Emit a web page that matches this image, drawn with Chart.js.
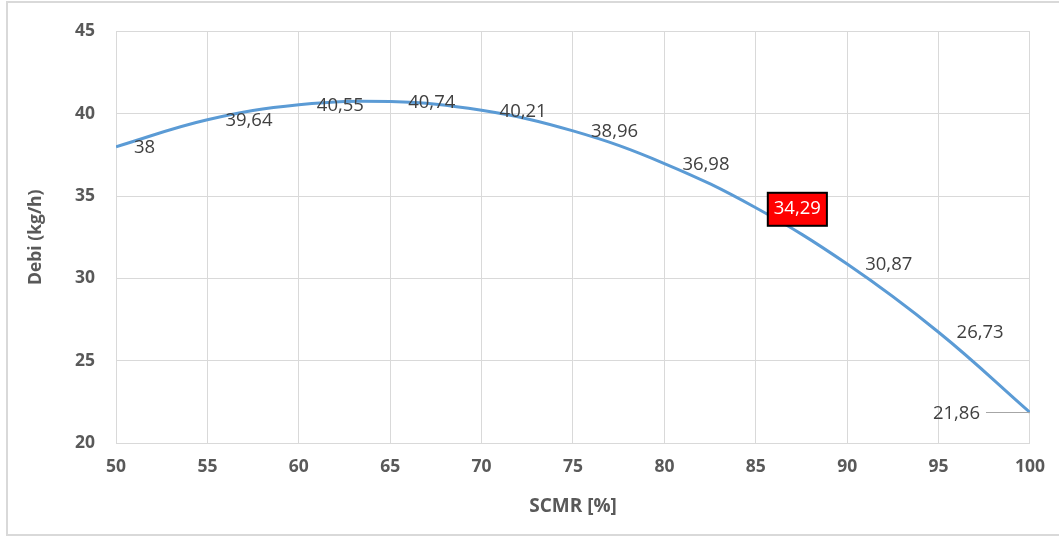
<!DOCTYPE html>
<html lang="id">
<head>
  <meta charset="UTF-8">
  <title>Debi vs SCMR</title>
  <script src="https://cdn.jsdelivr.net/npm/chart.js"></script>
  <style>
    html, body { margin: 0; padding: 0; background: #fff; }
    #wrap { width: 1059px; height: 538px; position: relative; }
  </style>
</head>
<body>
<div id="wrap"><canvas id="chart"></canvas></div>

<script>
  // data
  const scmr = [50, 55, 60, 65, 70, 75, 80, 85, 90, 95, 100];
  const debi = [38, 39.64, 40.55, 40.74, 40.21, 38.96, 36.98, 34.29, 30.87, 26.73, 21.86];
  const xTicks = [50, 55, 60, 65, 70, 75, 80, 85, 90, 95, 100];
  const yTicks = [20, 25, 30, 35, 40, 45];

  const highlightIndex = 7;   // boxed red label
  const leaderIndex = 10;     // label put left with leader line

  const fontFamily = '"Open Sans", Lato, sans-serif';

  function fmt(v) {
    return String(v).replace('.', ',');
  }

  // light frame round the chart
  const framePlugin = {
    id: 'frame',
    beforeDraw(chart) {
      const ctx = chart.ctx;
      ctx.save();
      ctx.strokeStyle = '#d9d9d9';
      ctx.lineWidth = 2;
      ctx.beginPath();
      ctx.moveTo(1060, 2);
      ctx.lineTo(7, 2);
      ctx.lineTo(7, 535);
      ctx.lineTo(1060, 535);
      ctx.stroke();
      ctx.restore();
    }
  };

  // data labels
  const labelPlugin = {
    id: 'pointLabels',
    afterDatasetsDraw(chart) {
      const ctx = chart.ctx;
      const meta = chart.getDatasetMeta(0);
      ctx.save();
      ctx.font = '18.5px ' + fontFamily;
      ctx.textBaseline = 'middle';
      meta.data.forEach((pt, i) => {
        const txt = fmt(debi[i]);
        const w = ctx.measureText(txt).width;
        let x = pt.x + 18;
        const y = pt.y + 1;
        if (i === leaderIndex) {
          x = pt.x - 50 - w;
          ctx.strokeStyle = '#a6a6a6';
          ctx.lineWidth = 1;
          ctx.beginPath();
          ctx.moveTo(pt.x - 44, Math.round(pt.y) + 0.5);
          ctx.lineTo(pt.x, Math.round(pt.y) + 0.5);
          ctx.stroke();
        }
        if (i === highlightIndex) {
          ctx.fillStyle = '#ff0000';
          ctx.fillRect(x - 6, y - 16, w + 12, 33);
          ctx.strokeStyle = '#000';
          ctx.lineWidth = 2;
          ctx.strokeRect(x - 6, y - 16, w + 12, 33);
          ctx.fillStyle = '#ffffff';
        } else {
          ctx.fillStyle = '#404040';
        }
        ctx.textAlign = 'left';
        ctx.fillText(txt, x, y);
      });
      ctx.restore();
    }
  };

  const ctx = document.getElementById('chart');
  const chart = new Chart(ctx, {
    type: 'line',
    data: {
      datasets: [{
        label: 'Debi',
        data: scmr.map((x, i) => ({ x: x, y: debi[i] })),
        borderColor: '#5b9bd5',
        borderWidth: 3,
        pointRadius: 0,
        tension: 0.4,
        fill: false
      }]
    },
    options: {
      responsive: true,
      maintainAspectRatio: false,
      animation: false,
      layout: { padding: { top: 29, right: 24, bottom: 14, left: 8 } },
      plugins: {
        legend: { display: false },
        tooltip: { enabled: false }
      },
      scales: {
        x: {
          type: 'linear',
          min: 50,
          max: 100,
          afterBuildTicks(scale) { scale.ticks = xTicks.map(v => ({ value: v })); },
          afterFit(scale) { scale.height = 81; },
          grid: { color: '#d9d9d9', drawTicks: false },
          border: { color: '#d9d9d9' },
          ticks: {
            padding: 14,
            color: '#595959',
            font: { family: fontFamily, size: 17.5, weight: 'bold' }
          },
          title: {
            display: true,
            text: 'SCMR [%]',
            color: '#595959',
            padding: { top: 10, bottom: 6 },
            font: { family: fontFamily, size: 19, weight: 'bold' }
          }
        },
        y: {
          min: 20,
          max: 45,
          afterBuildTicks(scale) { scale.ticks = yTicks.map(v => ({ value: v })); },
          afterFit(scale) { scale.width = 108; },
          grid: { color: '#d9d9d9', drawTicks: false },
          border: { color: '#d9d9d9' },
          ticks: {
            padding: 21,
            color: '#595959',
            font: { family: fontFamily, size: 17.5, weight: 'bold' }
          },
          title: {
            display: true,
            text: 'Debi (kg/h)',
            color: '#595959',
            padding: { top: 18, bottom: 0 },
            font: { family: fontFamily, size: 17.5, weight: 'bold' }
          }
        }
      }
    },
    plugins: [framePlugin, labelPlugin]
  });
</script>
</body>
</html>
